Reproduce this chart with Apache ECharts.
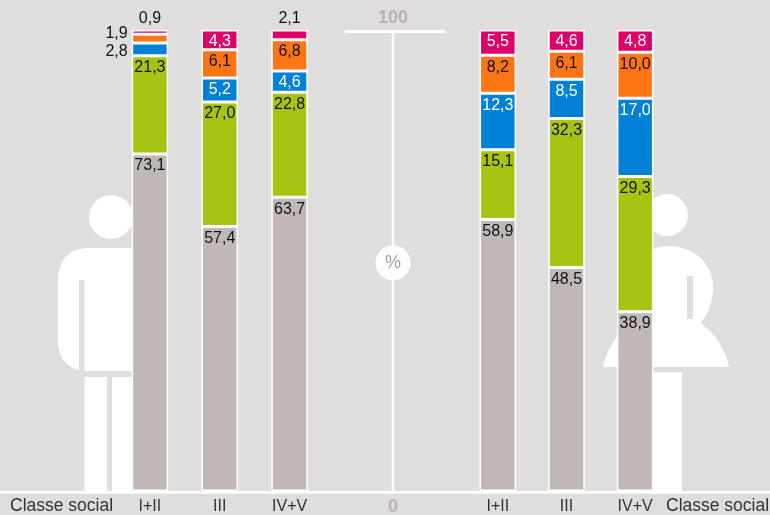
<!DOCTYPE html>
<html><head><meta charset="utf-8">
<style>html,body{margin:0;padding:0;background:#e0dddd}#c{width:770px;height:515px}</style>
<script src="https://cdn.jsdelivr.net/npm/echarts@6/dist/echarts.min.js"></script>
</head><body><div id="c"></div>
<script>
const classes = ['I+II','III','IV+V'];
const seriesNames = ['a','b','c','d','e'];
const menGrey   = [73.1,57.4,63.7];
const menGreen  = [21.3,27.0,22.8];
const menBlue   = [2.8,5.2,4.6];
const menOrange = [1.9,6.1,6.8];
const menPink   = [0.9,4.3,2.1];
const womenGrey   = [58.9,48.5,38.9];
const womenGreen  = [15.1,32.3,29.3];
const womenBlue   = [12.3,8.5,17.0];
const womenOrange = [8.2,6.1,10.0];
const womenPink   = [5.5,4.6,4.8];
const colors = ['#c0b8b6','#a8c412','#0081d6','#ff7415','#dd0068'];
const labelColors = ['#111','#111','#fff','#111','#fff'];
const FONT = '"Liberation Sans", Arial, sans-serif';
const BG = '#e0dddd';
const fmt = v => v.toFixed(1).replace('.', ',');

echarts.graphic.registerShape('manBody', echarts.graphic.extendPath('M140 248 L88 248 C68 248 58 262 58 282 L58 340 C58 358 66 366 79 370 L79 280 L84.5 280 L84.5 371 L140 371 Z'));
echarts.graphic.registerShape('womanBody', echarts.graphic.extendPath('M667 246 C695 246 713 264 713 288 C713 302 708 314 700 324 L640 324 L640 262 C648 251 656 246 667 246 Z'));
echarts.graphic.registerShape('womanSkirt', echarts.graphic.extendPath('M603 367 C610 335 634 313 666 313 C698 313 722 335 729 367 Z'));

function stack(gridIndex, groups, overrides) {
  return groups.map((vals, s) => ({
    type: 'bar', xAxisIndex: gridIndex, yAxisIndex: gridIndex, stack: 'g' + gridIndex,
    name: seriesNames[s], barWidth: 36.5, z: 3,
    itemStyle: { color: colors[s], borderColor: '#fff', borderWidth: 1.5 },
    label: { show: true, position: 'insideTop', distance: 4, fontFamily: FONT, fontSize: 16,
      color: labelColors[s], formatter: p => fmt(p.value) },
    data: vals.map((v, i) => {
      const o = overrides && overrides[s + '_' + i];
      return o ? { value: v, label: o } : v;
    })
  }));
}
const outsideLabel = { color: '#111' };
const menOverrides = {
  '2_0': Object.assign({ position: 'left', distance: 4, offset: [0, 2] }, outsideLabel),
  '3_0': Object.assign({ position: 'left', distance: 4, offset: [0, -5] }, outsideLabel),
  '4_0': Object.assign({ position: 'top', distance: 3 }, outsideLabel),
  '4_2': Object.assign({ position: 'top', distance: 3 }, outsideLabel)
};
const catAxis = i => ({
  type: 'category', gridIndex: i, data: classes,
  axisLine: { show: false }, axisTick: { show: false },
  axisLabel: { fontFamily: FONT, fontSize: 16, color: '#333', margin: 8 }
});
const valAxis = i => ({ type: 'value', gridIndex: i, min: 0, max: 100, show: false });

const option = {
  backgroundColor: BG, animation: false,
  grid: [
    { left: 115, width: 209.5, top: 30, height: 461 },
    { left: 463.5, width: 206, top: 30, height: 461 },
    { left: 346, width: 98, top: 31, height: 460 }
  ],
  xAxis: [catAxis(0), catAxis(1), {
    type: 'value', gridIndex: 2, min: 0, max: 98, position: 'top',
    axisLine: { show: true, onZero: false, lineStyle: { color: '#fff', width: 3 } },
    axisTick: { show: false }, axisLabel: { show: false }, splitLine: { show: false }
  }],
  yAxis: [valAxis(0), valAxis(1), valAxis(2)],
  graphic: [
    { type: 'rect', z: 1, shape: { x: 0, y: 491, width: 770, height: 2.7 }, style: { fill: '#fff' } },
    { type: 'circle', z: 1, shape: { cx: 111, cy: 217, r: 22 }, style: { fill: '#fff' } },
    { type: 'manBody', z: 1, style: { fill: '#fff' } },
    { type: 'rect', z: 1, shape: { x: 84.5, y: 377, width: 22.5, height: 114 }, style: { fill: '#fff' } },
    { type: 'rect', z: 1, shape: { x: 112, y: 377, width: 28, height: 114 }, style: { fill: '#fff' } },
    { type: 'circle', z: 1, shape: { cx: 667, cy: 215, r: 21 }, style: { fill: '#fff' } },
    { type: 'womanBody', z: 1, style: { fill: '#fff' } },
    { type: 'womanSkirt', z: 1, style: { fill: '#fff' } },
    { type: 'rect', z: 1, shape: { x: 687, y: 276, width: 6, height: 43 }, style: { fill: BG } },
    { type: 'rect', z: 1, shape: { x: 640, y: 372.5, width: 42, height: 118.5 }, style: { fill: '#fff' } },
    { type: 'text', z: 4, style: { text: 'Classe social', x: 10, y: 497, fontFamily: FONT, fontSize: 17.5, fill: '#333' } },
    { type: 'text', z: 4, style: { text: 'Classe social', x: 666, y: 497, fontFamily: FONT, fontSize: 17.5, fill: '#333' } }
  ],
  series: [
    ...stack(0, [menGrey, menGreen, menBlue, menOrange, menPink], menOverrides),
    ...stack(1, [womenGrey, womenGreen, womenBlue, womenOrange, womenPink]),
    { type: 'line', xAxisIndex: 2, yAxisIndex: 2, symbol: 'none', z: 2,
      lineStyle: { color: '#fff', width: 2.5 }, data: [[47, 0], [47, 100]] },
    { type: 'scatter', xAxisIndex: 2, yAxisIndex: 2, z: 3, silent: true,
      data: [
        { value: [47, 100], symbolSize: 0, label: { show: true, position: 'top', distance: 4, formatter: '100', color: '#b0a8a6', fontFamily: FONT, fontSize: 18, fontWeight: 'bold' } },
        { value: [47, 0], symbolSize: 0, label: { show: true, position: 'bottom', distance: 7, formatter: '0', color: '#b0a8a6', fontFamily: FONT, fontSize: 18, fontWeight: 'bold' } },
        { value: [47, 49.6], symbolSize: 35, itemStyle: { color: '#fff', opacity: 1 }, label: { show: true, position: 'inside', formatter: '%', color: '#a8a09e', fontFamily: FONT, fontSize: 18 } }
      ] }
  ]
};
echarts.init(document.getElementById('c'), null, { renderer: 'canvas' }).setOption(option);
</script></body></html>
